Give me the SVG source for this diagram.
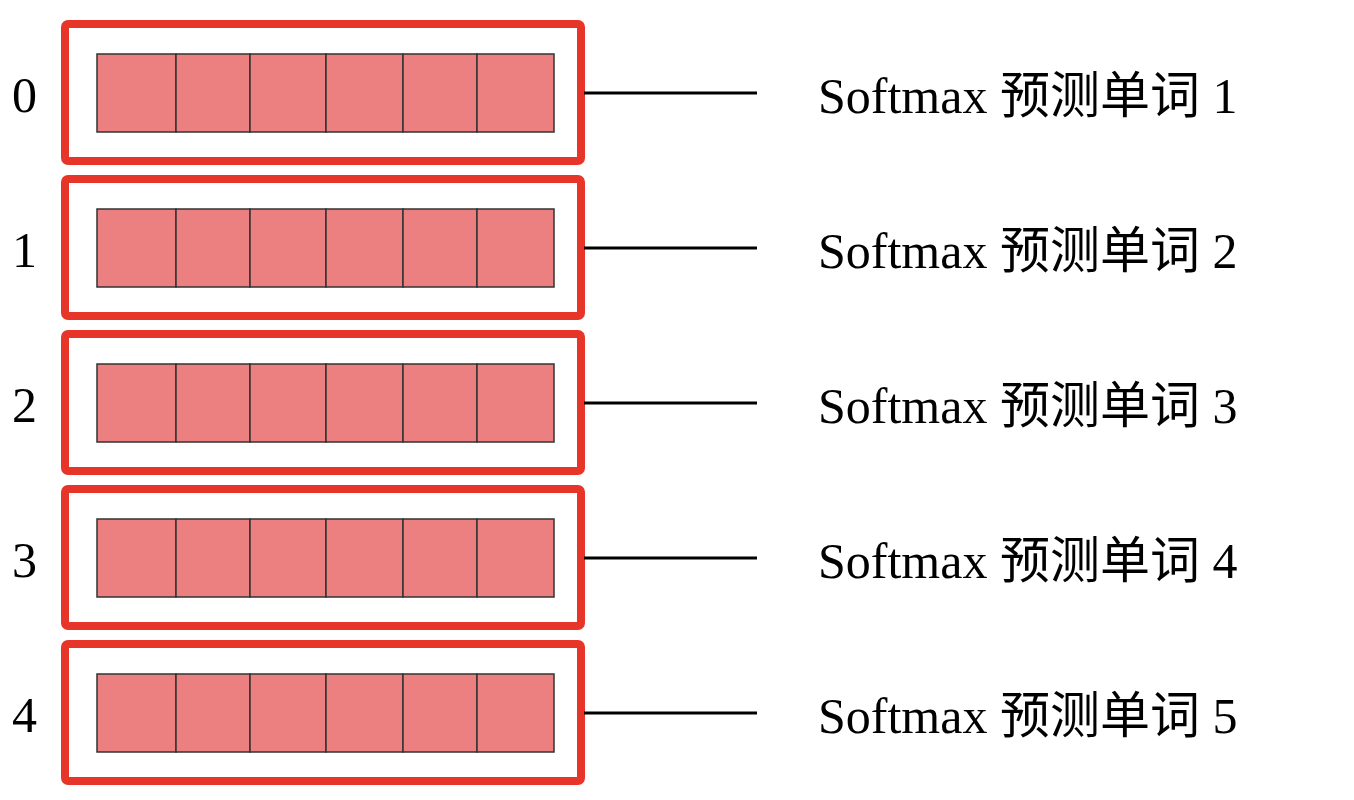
<svg xmlns="http://www.w3.org/2000/svg" width="1354" height="800" viewBox="0 0 1354 800">
<defs>
<style>
.box{fill:none;stroke:#e8352a;stroke-width:8}
.cell{fill:#ec8080;stroke:#333;stroke-width:1.5}
.num{font-family:"Liberation Serif",serif;font-size:50px;fill:#000}
.lbl{font-family:"Liberation Serif","Noto Sans CJK SC",serif;font-size:50px;fill:#000}
.ln{stroke:#000;stroke-width:3}
</style>
<g id="row">
<rect class="box" x="65" y="24" width="516" height="137" rx="3"/>
<rect class="cell" x="97" y="54" width="79" height="78"/>
<rect class="cell" x="176" y="54" width="74" height="78"/>
<rect class="cell" x="250" y="54" width="76" height="78"/>
<rect class="cell" x="326" y="54" width="77" height="78"/>
<rect class="cell" x="403" y="54" width="74" height="78"/>
<rect class="cell" x="477" y="54" width="77" height="78"/>
</g>
</defs>
<g id="node0"><use href="#row"/><text class="num" x="12" y="112">0</text><text class="lbl" x="818" y="113">Softmax 预测单词 1</text></g>
<g id="node1"><use href="#row" y="155"/><text class="num" x="12" y="267">1</text><text class="lbl" x="818" y="268">Softmax 预测单词 2</text></g>
<g id="node2"><use href="#row" y="310"/><text class="num" x="12" y="422">2</text><text class="lbl" x="818" y="423">Softmax 预测单词 3</text></g>
<g id="node3"><use href="#row" y="465"/><text class="num" x="12" y="577">3</text><text class="lbl" x="818" y="578">Softmax 预测单词 4</text></g>
<g id="node4"><use href="#row" y="620"/><text class="num" x="12" y="732">4</text><text class="lbl" x="818" y="733">Softmax 预测单词 5</text></g>
<g id="connectors">
<line class="ln" x1="584" y1="93" x2="757" y2="93"/>
<line class="ln" x1="584" y1="248" x2="757" y2="248"/>
<line class="ln" x1="584" y1="403" x2="757" y2="403"/>
<line class="ln" x1="584" y1="558" x2="757" y2="558"/>
<line class="ln" x1="584" y1="713" x2="757" y2="713"/>
</g>
</svg>
